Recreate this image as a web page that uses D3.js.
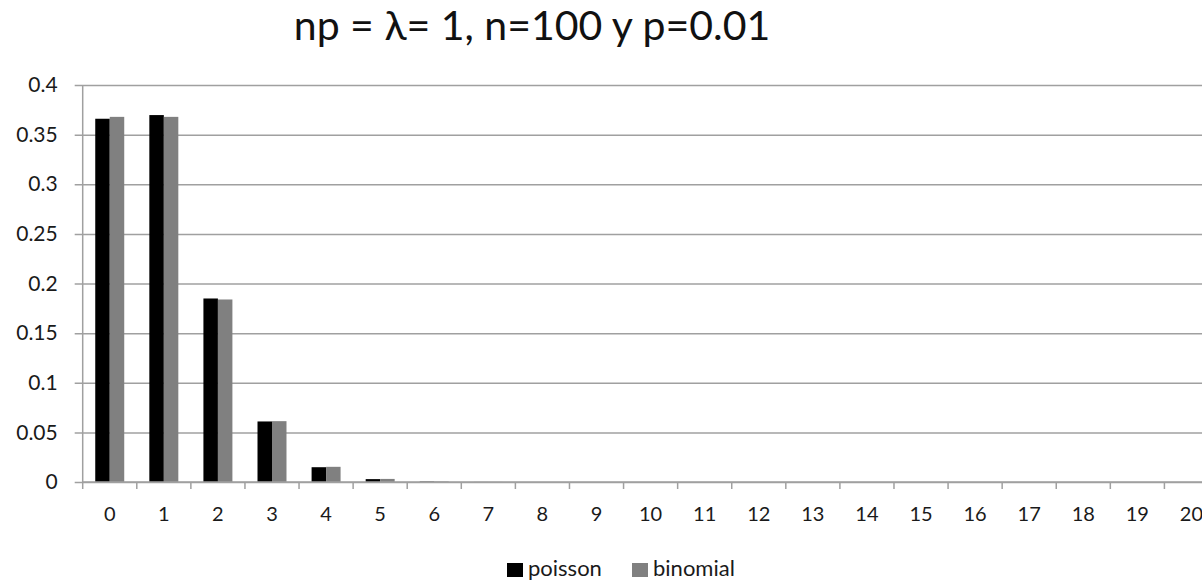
<!DOCTYPE html>
<html>
<head>
<meta charset="utf-8">
<script src="https://cdnjs.cloudflare.com/ajax/libs/d3/7.8.5/d3.min.js"></script>
<style>
  body { margin: 0; background: #fff; }
  svg { display: block; font-family: Lato, "Open Sans", sans-serif; }
</style>
</head>
<body>
<svg id="chart"></svg>
<script>
const categories = d3.range(0, 21).map(String);
const seriesNames = ["poisson", "binomial"];
const poisson = [0.366, 0.3697, 0.1849, 0.061, 0.0149, 0.0029, 0.00046, 0.00006, 0.000007, 0.0000007,
  0, 0, 0, 0, 0, 0, 0, 0, 0, 0, 0];
const binomial = [0.3679, 0.3679, 0.1839, 0.0613, 0.0153, 0.0031, 0.0005, 0.00007, 0.000009, 0.000001,
  0, 0, 0, 0, 0, 0, 0, 0, 0, 0, 0];
const yTicks = [0, 0.05, 0.1, 0.15, 0.2, 0.25, 0.3, 0.35, 0.4];
const colors = { poisson: "#000000", binomial: "#808080" };

const width = 1202;
const height = 582;
const plotLeft = 82.7;
const plotRight = 1218.5;
const plotTop = 85;
const plotBottom = 482;

const svg = d3.select("#chart").attr("width", width).attr("height", height);

// title
svg.append("text")
  .attr("x", 532)
  .attr("y", 40)
  .attr("text-anchor", "middle")
  .attr("font-size", 41)
  .attr("fill", "#111")
  .text("np = λ= 1, n=100 y p=0.01");

// scales
const pad = 0.464;
const x = d3.scaleBand()
  .domain(categories)
  .range([plotLeft, plotRight])
  .paddingInner(pad)
  .paddingOuter(pad / 2);

const xInner = d3.scaleBand()
  .domain(seriesNames)
  .range([0, x.bandwidth()]);

const y = d3.scaleLinear()
  .domain([0, 0.4])
  .range([plotBottom, plotTop]);

// grid + y axis
const yAxis = d3.axisLeft(y)
  .tickValues(yTicks)
  .tickSize(-(plotRight - plotLeft))
  .tickPadding(25)
  .tickFormat(d => String(+d.toFixed(2)));

const gy = svg.append("g")
  .attr("transform", "translate(" + plotLeft + ",0)")
  .call(yAxis);
gy.select(".domain").remove();
gy.selectAll(".tick line")
  .attr("x1", -8)
  .attr("stroke", "#a0a0a0")
  .attr("stroke-width", 1.5);
gy.selectAll(".tick text")
  .attr("font-size", 21)
  .attr("fill", "#1a1a1a")
  .attr("font-family", "Lato, 'Open Sans', sans-serif");

// y axis line
svg.append("line")
  .attr("x1", plotLeft).attr("x2", plotLeft)
  .attr("y1", plotTop).attr("y2", plotBottom)
  .attr("stroke", "#a0a0a0")
  .attr("stroke-width", 1.5);

// bars
const rows = categories.map((c, i) => ({ cat: c, poisson: poisson[i], binomial: binomial[i] }));

svg.append("g")
  .selectAll("g")
  .data(rows)
  .join("g")
  .attr("transform", d => "translate(" + x(d.cat) + ",0)")
  .selectAll("rect")
  .data(d => seriesNames.map(s => ({ s: s, v: d[s] })))
  .join("rect")
  .attr("x", d => xInner(d.s))
  .attr("width", xInner.bandwidth())
  .attr("y", d => y(d.v))
  .attr("height", d => plotBottom - y(d.v))
  .attr("fill", d => colors[d.s]);

// x axis
svg.append("line")
  .attr("x1", plotLeft).attr("x2", plotRight)
  .attr("y1", plotBottom).attr("y2", plotBottom)
  .attr("stroke", "#a0a0a0")
  .attr("stroke-width", 1.5);

const step = x.step();
const boundaries = d3.range(0, categories.length + 1).map(i => plotLeft + i * step);
svg.append("g")
  .selectAll("line")
  .data(boundaries)
  .join("line")
  .attr("x1", d => d).attr("x2", d => d)
  .attr("y1", plotBottom).attr("y2", plotBottom + 7)
  .attr("stroke", "#a0a0a0")
  .attr("stroke-width", 1.5);

svg.append("g")
  .selectAll("text")
  .data(categories)
  .join("text")
  .attr("x", d => x(d) + x.bandwidth() / 2)
  .attr("y", 521)
  .attr("text-anchor", "middle")
  .attr("font-size", 20)
  .attr("fill", "#1a1a1a")
  .text(d => d);

// legend
const legend = [
  { name: "poisson", x: 507 },
  { name: "binomial", x: 632 }
];
const lg = svg.append("g")
  .selectAll("g")
  .data(legend)
  .join("g")
  .attr("transform", d => "translate(" + d.x + ",563)");
lg.append("rect")
  .attr("width", 16)
  .attr("height", 14)
  .attr("fill", d => colors[d.name]);
lg.append("text")
  .attr("x", 21)
  .attr("y", 13)
  .attr("font-size", 22)
  .attr("fill", "#1a1a1a")
  .text(d => d.name);
</script>
</body>
</html>
